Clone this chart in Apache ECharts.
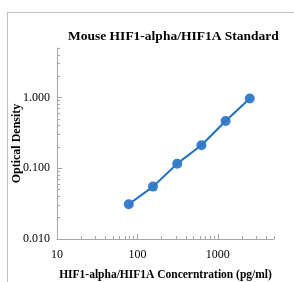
<!DOCTYPE html>
<html>
<head>
<meta charset="utf-8">
<script src="https://cdn.jsdelivr.net/npm/echarts@6/dist/echarts.min.js"></script>
<style>
  html, body { margin: 0; padding: 0; background: #fff; }
  #chart { width: 294px; height: 282px; }
</style>
</head>
<body>
<div id="chart"></div>
<script>
const concentration = [78.125, 156.25, 312.5, 625, 1250, 2500]
const opticalDensity = [0.031, 0.055, 0.116, 0.211, 0.464, 0.968]

const xLabels = [10, 100, 1000]
const xMinorTicks = [20, 30, 40, 50, 60, 70, 80, 90, 200, 300, 400, 500, 600, 700, 800, 900, 2000, 3000, 4000, 5000]
const yLabels = [0.01, 0.1, 1]
const yMinorTicks = [0.02, 0.03, 0.04, 0.05, 0.06, 0.07, 0.08, 0.09, 0.2, 0.3, 0.4, 0.5, 0.6, 0.7, 0.8, 0.9, 2, 3, 4, 5]

const axisGray = '#a6a6a6'
const font = '"Liberation Serif", "DejaVu Serif", serif'

const chart = echarts.init(document.getElementById('chart'))

const baseX = {
  type: 'log', logBase: 10, min: 10, max: 5000,
  splitLine: { show: false },
}
const baseY = {
  type: 'log', logBase: 10, min: 0.01, max: 5,
  splitLine: { show: false },
}

chart.setOption({
  animation: false,
  title: {
    text: 'Mouse HIF1-alpha/HIF1A Standard',
    left: 63, top: 25,
    textStyle: { fontFamily: font, fontSize: 13.5, fontWeight: 'bold', color: '#000' },
  },
  graphic: [{
    type: 'rect',
    shape: { x: 7.5, y: 12.5, width: 400, height: 400 },
    style: { fill: 'none', stroke: '#bfbfbf', lineWidth: 1 },
    silent: true,
  }],
  grid: { left: 57, right: 20, top: 48, bottom: 43, outerBoundsMode: 'none', containLabel: false },
  xAxis: [{
    ...baseX,
    name: 'HIF1-alpha/HIF1A Concerntration (pg/ml)',
    nameLocation: 'middle', nameGap: 30, nameMoveOverlap: false,
    nameTextStyle: { fontFamily: font, fontSize: 11.5, fontWeight: 'bold', color: '#000' },
    axisLine: { lineStyle: { color: axisGray } },
    axisTick: { inside: true, length: 5, customValues: xLabels, lineStyle: { color: axisGray } },
    axisLabel: {
      customValues: xLabels, margin: 10, fontFamily: font, fontSize: 12, color: '#000',
      formatter: v => String(Math.round(v)),
    },
  }, {
    ...baseX,
    position: 'bottom',
    axisLine: { show: false },
    axisTick: { inside: true, length: 3, customValues: xMinorTicks, lineStyle: { color: axisGray } },
    axisLabel: { show: false },
  }],
  yAxis: [{
    ...baseY,
    name: 'Optical Density',
    nameLocation: 'middle', nameGap: 34, nameMoveOverlap: false,
    nameTextStyle: { fontFamily: font, fontSize: 12, fontWeight: 'bold', color: '#000' },
    axisLine: { show: true, lineStyle: { color: axisGray } },
    axisTick: { show: true, inside: true, length: 5, customValues: yLabels, lineStyle: { color: axisGray } },
    axisLabel: {
      customValues: yLabels, margin: 7, fontFamily: font, fontSize: 12, color: '#000',
      formatter: v => Number(v).toFixed(3),
    },
  }, {
    ...baseY,
    position: 'left',
    axisLine: { show: false },
    axisTick: { show: true, inside: true, length: 3, customValues: yMinorTicks, lineStyle: { color: axisGray } },
    axisLabel: { show: false },
  }],
  series: [{
    type: 'line',
    data: concentration.map((c, i) => [c, opticalDensity[i]]),
    symbol: 'circle',
    symbolSize: 10,
    lineStyle: { color: '#1f70c1', width: 2 },
    itemStyle: { color: '#2e78c7', opacity: 0.95 },
  }],
})
</script>
</body>
</html>
